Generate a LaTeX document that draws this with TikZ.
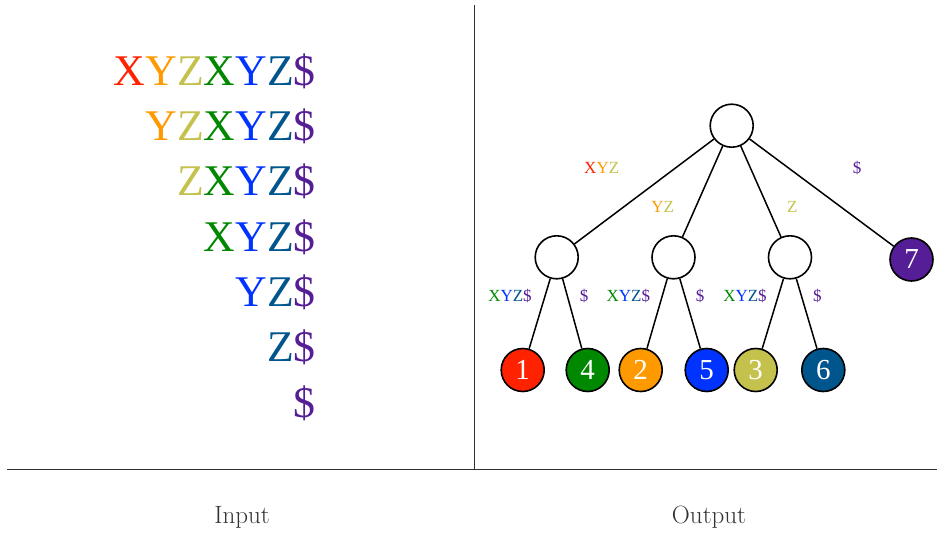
\documentclass[tikz,border=0pt]{standalone}
\usepackage{fontspec}
\newfontfamily\tms{Liberation Serif}
\definecolor{cred}{RGB}{255,34,0}
\definecolor{corange}{RGB}{255,153,0}
\definecolor{colive}{RGB}{196,193,77}
\definecolor{cgreen}{RGB}{0,136,0}
\definecolor{cblue}{RGB}{0,51,255}
\definecolor{cnavy}{RGB}{0,85,140}
\definecolor{cpurple}{RGB}{85,30,150}
\definecolor{rulegray}{RGB}{50,50,50}
\newcommand{\sX}{\textcolor{cred}{X}}
\newcommand{\sY}{\textcolor{corange}{Y}}
\newcommand{\sZ}{\textcolor{colive}{Z}}
\newcommand{\tX}{\textcolor{cgreen}{X}}
\newcommand{\tY}{\textcolor{cblue}{Y}}
\newcommand{\tZ}{\textcolor{cnavy}{Z}}
\newcommand{\tD}{\textcolor{cpurple}{\$}}
\begin{document}
\begin{tikzpicture}[x=1pt,y=-1pt,
  strrow/.style={anchor=base east,inner sep=0pt,font=\tms\fontsize{43.8}{50}\selectfont},
  inode/.style={circle,draw,line width=1.6pt,minimum size=43pt,inner sep=0pt,fill=white},
  leaf/.style={circle,draw,line width=1.6pt,minimum size=43pt,inner sep=0pt,text=white,font=\tms\fontsize{29}{31}\selectfont},
  elabel/.style={anchor=base,inner sep=0pt,font=\tms\fontsize{17}{19}\selectfont},
  edge/.style={line width=1.5pt},
  caption/.style={anchor=base,inner sep=0pt,text=rulegray,font=\fontsize{25}{28}\selectfont}]
\useasboundingbox (0,0) rectangle (938,533);
% rules
\draw[rulegray,line width=0.8pt] (474,5) -- (474,469);
\draw[rulegray,line width=0.8pt] (7,469) -- (937,469);
% input strings
\node[strrow] (r1) at (316,85) {\sX\sY\sZ\tX\tY\tZ\tD};
\node[strrow] (r2) at (316,140.3) {\sY\sZ\tX\tY\tZ\tD};
\node[strrow] (r3) at (316,195.6) {\sZ\tX\tY\tZ\tD};
\node[strrow] (r4) at (316,251) {\tX\tY\tZ\tD};
\node[strrow] (r5) at (316,306) {\tY\tZ\tD};
\node[strrow] (r6) at (316,361.5) {\tZ\tD};
\node[strrow] (r7) at (316,417) {\tD};
% tree
\node[inode] (root) at (731.7,125.7) {};
\node[inode] (a) at (556.7,257.3) {};
\node[inode] (b) at (673.5,257.3) {};
\node[inode] (c) at (790,257.3) {};
\node[leaf,fill=cpurple] (l7) at (911.5,259.5) {7};
\node[leaf,fill=cred] (l1) at (522.7,370) {1};
\node[leaf,fill=cgreen] (l4) at (587.7,370) {4};
\node[leaf,fill=corange] (l2) at (640.7,370) {2};
\node[leaf,fill=cblue] (l5) at (706.7,370) {5};
\node[leaf,fill=colive] (l3) at (755.7,370) {3};
\node[leaf,fill=cnavy] (l6) at (823.3,370) {6};
\draw[edge] (root) -- (a);
\draw[edge] (root) -- (b);
\draw[edge] (root) -- (c);
\draw[edge] (root) -- (l7);
\draw[edge] (a) -- (l1);
\draw[edge] (a) -- (l4);
\draw[edge] (b) -- (l2);
\draw[edge] (b) -- (l5);
\draw[edge] (c) -- (l3);
\draw[edge] (c) -- (l6);
% edge labels
\node[elabel] (e1) at (601.7,173.7) {\sX\sY\sZ};
\node[elabel] (e2) at (662.7,212) {\sY\sZ};
\node[elabel] (e3) at (792.3,212) {\sZ};
\node[elabel] (e4) at (857,173) {\tD};
\node[elabel] (e5) at (510,301) {\tX\tY\tZ\tD};
\node[elabel] (e6) at (584,301) {\tD};
\node[elabel] (e7) at (628.3,301) {\tX\tY\tZ\tD};
\node[elabel] (e8) at (700,301) {\tD};
\node[elabel] (e9) at (745,301) {\tX\tY\tZ\tD};
\node[elabel] (e10) at (817.3,301) {\tD};
% captions
\node[caption] (cin) at (242,523) {Input};
\node[caption] (cout) at (709,523) {Output};
\end{tikzpicture}
\end{document}
